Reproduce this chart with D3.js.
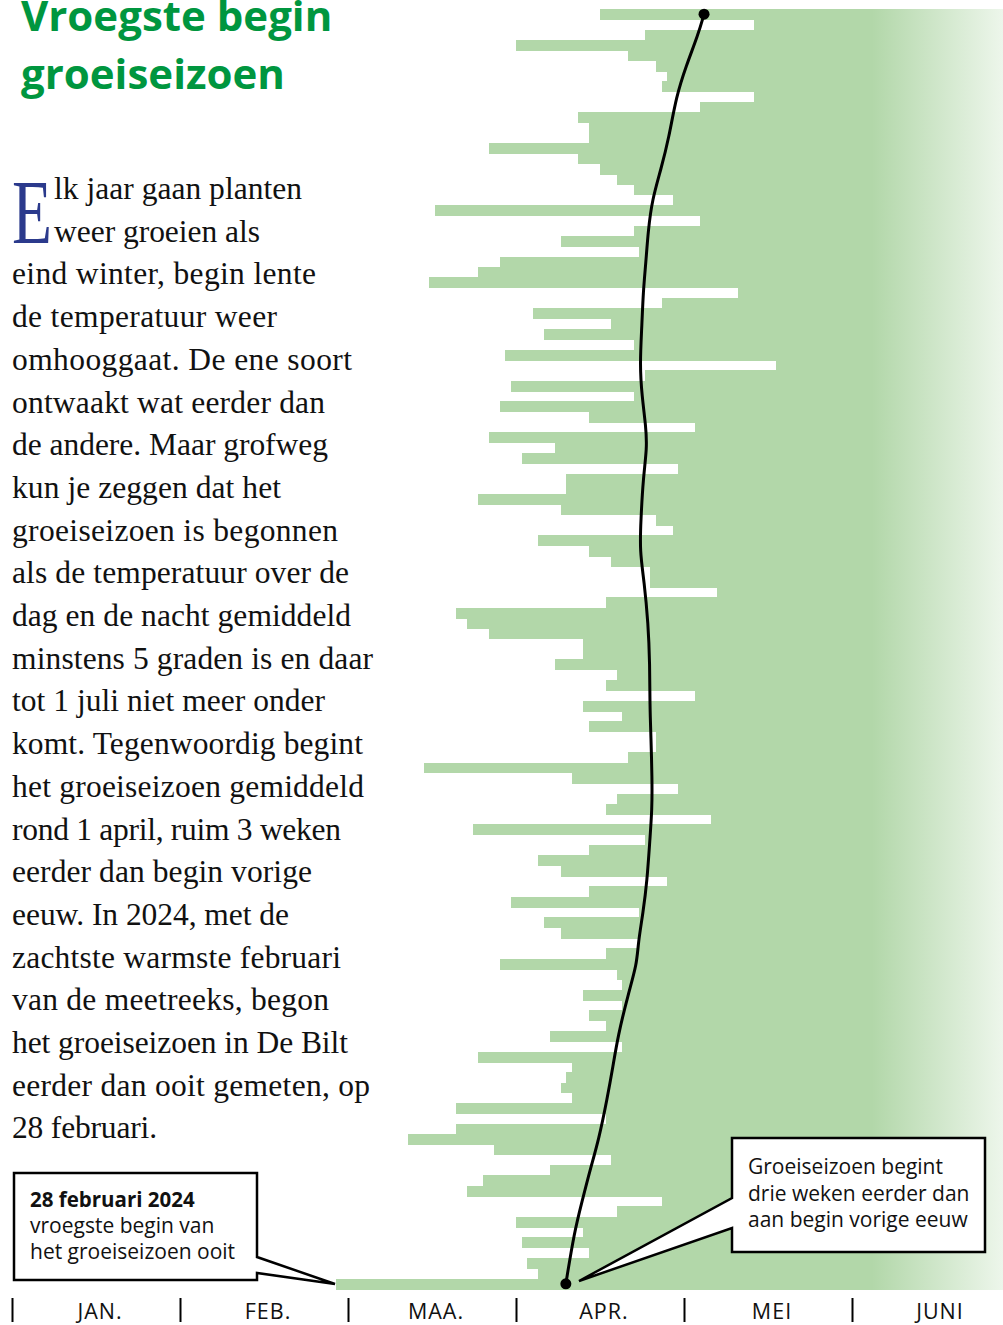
<!DOCTYPE html>
<html><head><meta charset="utf-8">
<script src="https://cdn.jsdelivr.net/npm/d3@7"></script>
<style>
html,body{margin:0;padding:0;background:#fff;}
svg{display:block;}
</style></head><body>
<svg id="chart" width="1003" height="1325"></svg>
<script>
// ---------- data ----------
const years = d3.range(1901, 2025);
// start of the growing season per year (month-day), 1901 .. 2024
const startDates = [
"04-16","05-14","04-24","04-01","04-21","04-26","04-28","04-27","05-14","05-04",
"04-12","04-14","04-14","03-27","04-12","04-16","04-19","04-22","04-29","03-17",
"05-04","04-22","04-09","04-23","03-29","03-25","03-16","05-11","04-27","04-04",
"04-18","04-06","04-22","03-30","05-18","04-24","03-31","04-22","03-29","04-14",
"05-03","03-27","04-08","04-02","04-30","04-10","04-10","03-25","04-09","04-26",
"04-29","04-05","04-14","04-18","04-25","04-25","05-07","04-17","03-21","03-23",
"03-27","04-13","04-13","04-08","04-19","04-17","05-03","04-13","04-20","04-14",
"04-26","04-26","04-21","03-15","04-11","04-30","04-19","04-17","05-06","03-24",
"04-24","04-14","04-05","04-09","04-28","04-14","03-31","04-23","04-06","04-09",
"04-23","04-17","03-29","04-19","04-20","04-13","04-20","04-14","04-17","04-07",
"04-20","03-25","04-11","04-10","04-09","04-11","03-21","04-17","03-21","03-12",
"03-28","04-18","04-07","03-26","03-23","04-27","04-19","04-01","04-13","04-02",
"04-14","04-03","04-05","02-28"
];
// smoothed trend, in days after 1 April
const trendYears = [1901,1903,1906,1909,1913,1916,1919,1922,1925,1928,1931,1935,1938,1941,1943,1946,1950,1953,1956,1960,1964,1968,1971,1975,1978,1981,1985,1988,1991,1993,1996,2000,2003,2006,2010,2013,2016,2019,2024];
const trendDays  = [33.7,32.6,30.4,28.6,27.3,25.9,24.3,23.6,23.2,22.7,22.5,22.1,22.5,23.2,23.4,22.7,22.3,22.1,22.9,23.6,23.9,23.9,24.1,24.3,24.3,23.9,23.4,22.7,21.8,21.6,20.0,18.2,17.3,16.3,14.8,13.2,11.8,10.4,8.9];
const monthLabels = ["JAN.","FEB.","MAA.","APR.","MEI","JUNI"];
const titleLines = ["Vroegste begin","groeiseizoen"];
const dropCap = "E";
const bodyLines = [
"lk jaar gaan planten","weer groeien als","eind winter, begin lente","de temperatuur weer",
"omhooggaat. De ene soort","ontwaakt wat eerder dan","de andere. Maar grofweg","kun je zeggen dat het",
"groeiseizoen is begonnen","als de temperatuur over de","dag en de nacht gemiddeld","minstens 5 graden is en daar",
"tot 1 juli niet meer onder","komt. Tegenwoordig begint","het groeiseizoen gemiddeld","rond 1 april, ruim 3 weken",
"eerder dan begin vorige","eeuw. In 2024, met de","zachtste warmste februari","van de meetreeks, begon",
"het groeiseizoen in De Bilt","eerder dan ooit gemeten, op","28 februari."
];
const noteEarliestTitle = "28 februari 2024";
const noteEarliest = ["vroegste begin van","het groeiseizoen ooit"];
const noteTrend = ["Groeiseizoen begint","drie weken eerder dan","aan begin vorige eeuw"];

// ---------- layout ----------
const bodyWidths = [248,206,304,265,340,313,316,269,326,337,339,361,313,351,352,329,300,277,329,317,336,358,145];

const svg = d3.select("#chart");
const x = d3.scaleLinear().domain([0, 6]).range([12, 1020]);
const y = d3.scaleBand().domain(years).range([9, 1289]);
const daysIn = (yr, m) => new Date(yr, m, 0).getDate();
function monthUnits(yr, s) { const [m, d] = s.split("-").map(Number); return (m - 1) + (d - 1) / daysIn(yr, m); }
function trendUnits(t) { return t <= 30 ? 3 + t / 30 : 4 + (t - 30) / 31; }

const defs = svg.append("defs");
const grad = defs.append("linearGradient").attr("id", "fade")
  .attr("gradientUnits", "userSpaceOnUse").attr("x1", 872).attr("x2", 1003).attr("y1", 0).attr("y2", 0);
grad.append("stop").attr("offset", 0).attr("stop-color", "#b2d7a9");
grad.append("stop").attr("offset", 1).attr("stop-color", "#edf6eb");

// bars
svg.append("g").attr("shape-rendering", "crispEdges")
  .selectAll("rect").data(years).join("rect")
  .attr("x", (yr, i) => x(monthUnits(yr, startDates[i])))
  .attr("y", yr => y(yr))
  .attr("width", (yr, i) => x(6) - x(monthUnits(yr, startDates[i])))
  .attr("height", y.bandwidth() + 0.6)
  .attr("fill", "url(#fade)");

// trend line
const trend = trendYears.map((yr, i) => ({ year: yr, t: trendDays[i] }));
const line = d3.line()
  .x(d => x(trendUnits(d.t)))
  .y(d => y(d.year) + y.bandwidth() / 2)
  .curve(d3.curveBasis);
svg.append("path").datum(trend).attr("d", line)
  .attr("fill", "none").attr("stroke", "#000").attr("stroke-width", 3).attr("stroke-linejoin", "round");
svg.append("g").selectAll("circle").data([trend[0], trend[trend.length - 1]]).join("circle")
  .attr("cx", d => x(trendUnits(d.t))).attr("cy", d => y(d.year) + y.bandwidth() / 2)
  .attr("r", 5.5).attr("fill", "#000");

// axis
const axisG = svg.append("g").attr("transform", "translate(0,1298)")
  .call(d3.axisBottom(x).tickValues(d3.range(0, 6)).tickSize(24).tickFormat(""));
axisG.select(".domain").remove();
axisG.selectAll(".tick line").attr("stroke", "#000").attr("stroke-width", 2);
svg.append("g").selectAll("text").data(monthLabels).join("text")
  .attr("x", (d, i) => x(i + 0.5) + 4).attr("y", 1319)
  .attr("text-anchor", "middle")
  .attr("font-family", "'Open Sans', sans-serif").attr("font-size", 21.5)
  .attr("letter-spacing", 1).attr("fill", "#111")
  .text(d => d);

// callouts
const co = svg.append("g").attr("fill", "#fff").attr("stroke", "#000").attr("stroke-width", 2.5).attr("stroke-linejoin", "miter");
co.append("path").attr("d", "M14,1173 H257 V1257 L335,1284 L257,1273 V1280 H14 Z");
co.append("path").attr("d", "M732,1138 H985 V1252 H732 V1228 L579,1281 L732,1198 Z");

const sans = "'Open Sans', sans-serif";
svg.append("text").attr("x", 30).attr("y", 1207).attr("font-family", sans).attr("font-weight", 700)
  .attr("font-size", 20.5).attr("fill", "#111").text(noteEarliestTitle);
noteEarliest.forEach((t, i) => svg.append("text").attr("x", 30).attr("y", 1233 + 26 * i)
  .attr("font-family", sans).attr("font-size", 21).attr("fill", "#111").text(t));
noteTrend.forEach((t, i) => svg.append("text").attr("x", 748).attr("y", 1174 + 26.5 * i)
  .attr("font-family", sans).attr("font-size", 21).attr("fill", "#111").text(t));

// title
titleLines.forEach((t, i) => svg.append("text").attr("x", 21).attr("y", 31 + 58 * i)
  .attr("font-family", sans).attr("font-weight", 700).attr("font-size", 42)
  .attr("fill", "#00963f").text(t));

// body text
svg.append("text").attr("x", 12).attr("y", 243)
  .attr("font-family", "'Liberation Serif', serif").attr("font-size", 92)
  .attr("textLength", 40).attr("lengthAdjust", "spacingAndGlyphs")
  .attr("fill", "#2b3a8c").text(dropCap);
const bodyG = svg.append("g").attr("font-family", "'Liberation Serif', serif")
  .attr("font-size", 31.5).attr("fill", "#111");
bodyLines.forEach((t, i) => bodyG.append("text")
  .attr("x", i < 2 ? 54 : 12).attr("y", 199 + 42.7 * i)
  .attr("textLength", bodyWidths[i]).attr("lengthAdjust", "spacing")
  .text(t));
</script>
</body></html>
